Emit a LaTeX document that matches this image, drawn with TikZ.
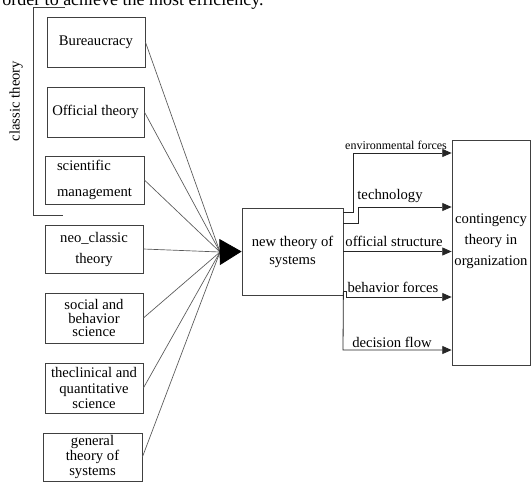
\documentclass[tikz,border=0pt]{standalone}
\usepackage{fontspec}
\setmainfont{Liberation Serif}
\usetikzlibrary{arrows.meta}
\begin{document}
\begin{tikzpicture}[x=0.75pt,y=-0.75pt,
  box/.style={draw=black!75, line width=0.6pt, inner sep=0pt, align=center,
    font=\fontsize{11}{13}\selectfont},
  fs/.style={font=\fontsize{11}{#1}\selectfont},
  lbl/.style={inner sep=0pt, font=\fontsize{11}{13}\selectfont},
  feed/.style={draw=black!65, line width=0.5pt},
  arr/.style={draw=black!85, line width=0.6pt, -{Triangle[length=7pt,width=6pt]}},
  big/.style={draw=black, line width=0.6pt, -{Triangle[length=16.5pt,width=19.5pt]}}]
\useasboundingbox (0,0) rectangle (531,482);
\fill[white] (0,0) rectangle (531,482);
% cut-off line of text at the top
\begin{scope}
\clip (0,0) rectangle (531,482);
\node[anchor=base west, inner sep=0pt, font=\fontsize{13.5}{15}\selectfont] (toptext) at (2,5) {order to achieve the most efficiency.};
\end{scope}
% classic theory bracket
\coordinate (ct1) at (65,7);
\coordinate (ct2) at (33,7);
\coordinate (ct3) at (33,215);
\coordinate (ct4) at (63,215);
\draw[draw=black!75, line width=0.6pt] (ct1) -- (ct2) -- (ct3) -- (ct4);
\node[lbl, rotate=90] (classic) at (16,101) {classic theory};
% left boxes
\node[box, minimum width=73.5pt, minimum height=37.5pt] (bur) at (96,42) {Bureaucracy};
\node[box, minimum width=72.75pt, minimum height=37.5pt] (off) at (95.5,112) {Official theory};
\node[box, minimum width=74.25pt, minimum height=36pt, align=left, fs=19.5] (sci) at (94.5,180) {scientific\\management};
\node[box, minimum width=73.5pt, minimum height=36pt, fs=15.75] (neo) at (94,249) {neo\_classic\\theory};
\node[box, minimum width=73.5pt, minimum height=37.5pt, fs=10] (soc) at (94,318) {social and\\behavior\\science};
\node[box, minimum width=73.5pt, minimum height=37.5pt, fs=11.6] (cli) at (94,388) {theclinical and\\quantitative\\science};
\node[box, minimum width=74.25pt, minimum height=36pt, fs=11.6] (gen) at (92.5,457) {general\\theory of\\systems};
% centre
\node[box, minimum width=75.75pt, minimum height=65.25pt, fs=13.5] (nt) at (292.5,251.5) {new theory of\\systems};
\coordinate (hub) at (220,252);
\foreach \b in {bur,off,sci,neo,soc,cli,gen}
  \draw[feed] (\b.east) -- (hub);
\draw[big] (hub) -- (nt.west);
% right box
\node[box, minimum width=58.5pt, minimum height=168.75pt] (cont) at (491,252.5) {};
\node[lbl, align=center, font=\fontsize{11}{15.75}\selectfont] (contlbl) at (491,241) {contingency\\theory in\\organization};
% branches
\coordinate (e1) at (353,153);
\coordinate (t1) at (358,207);
\coordinate (b1) at (346,297);
\coordinate (d1) at (343,350);
\draw[arr] ([yshift=-3.75pt]nt.north east) -| (e1) -- (cont.west |- e1);
\draw[arr] ([yshift=-12pt]nt.north east) -| (t1) -- (cont.west |- t1);
\draw[arr] (nt.east) -- (cont.west |- nt.east);
\draw[arr] ([yshift=3pt]nt.south east) -| (b1) -- (cont.west |- b1);
\draw[arr] ([yshift=3pt]nt.south east) -- (d1) -- (cont.west |- d1);
% labels
\node[lbl, font=\fontsize{9}{11}\selectfont] (envl) at (396,145) {environmental forces};
\node[lbl] (techl) at (390,196) {technology};
\node[lbl] (offl) at (394,241) {official structure};
\node[lbl] (behl) at (393,287) {behavior forces};
\node[lbl] (decl) at (392,342) {decision flow};
\end{tikzpicture}
\end{document}
